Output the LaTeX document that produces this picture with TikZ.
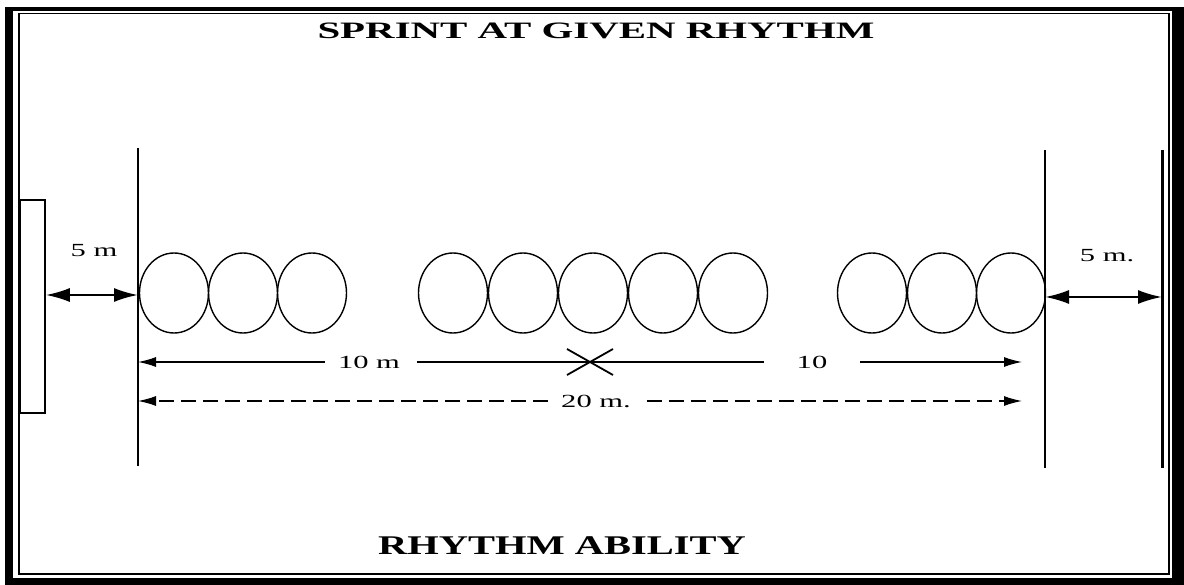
\documentclass[tikz,border=0pt]{standalone}
\usepackage{fontspec}
\setmainfont{Liberation Serif}
\usetikzlibrary{arrows.meta,shapes.geometric}
\begin{document}
\begin{tikzpicture}[x=1pt,y=-1pt,
  loop/.style={draw,ellipse,line width=1.4pt,minimum width=69pt,minimum height=80pt,inner sep=0pt},
  heading/.style={inner sep=0pt},
  dimlabel/.style={inner sep=0pt,font=\fontsize{18.5}{21}\selectfont},
  bar/.style={line width=2.6pt},
  thinline/.style={line width=1.4pt},
  dashline/.style={line width=1.4pt,dash pattern=on 15pt off 7pt},
  smalltip/.style={-{Latex[length=18pt,width=10pt]}},
  bigtips/.style={line width=2.2pt,{Latex[length=24pt,width=14pt]}-{Latex[length=24pt,width=14pt]}}
]
\useasboundingbox (0,0) rectangle (1184,585);
% frame
\fill (5,7) rectangle (13,583);
\fill (5,7) rectangle (1184,11);
\fill (1172,7) rectangle (1184,585);
\fill (5,578) rectangle (1184,585);
\draw[line width=1.5pt] (19,13.5) rectangle (1169,574);
% titles
\node[heading] (title) at (596,31) {\fontsize{23.5}{28}\selectfont\bfseries\scalebox{1.74}[1]{SPRINT AT GIVEN RHYTHM}};
\node[heading] (sub) at (562,546) {\fontsize{27}{32}\selectfont\bfseries\scalebox{1.5}[1]{RHYTHM ABILITY}};
% lines
\coordinate (s1) at (138,148);
\coordinate (s2) at (138,466);
\coordinate (f1) at (1045,150);
\coordinate (f2) at (1045,468);
\coordinate (e1) at (1162,150);
\coordinate (e2) at (1162,468);
\draw[bar] (s1) -- (s2);
\draw[bar] (f1) -- (f2);
\draw[line width=3pt] (e1) -- (e2);
% box
\node[draw,line width=1.5pt,minimum width=25pt,minimum height=213pt,inner sep=0pt] (box) at (32.5,306.5) {};
% loops
\foreach \i/\x in {1/174,2/243,3/312,4/453,5/523,6/593,7/663,8/733,9/872,10/942,11/1011}
  \node[loop] (c\i) at (\x,293) {};
% labels
\node[dimlabel] (d5a) at (94,251) {\scalebox{1.65}[1]{5 m}};
\node[dimlabel] (d5b) at (1107,256) {\scalebox{1.65}[1]{5 m.}};
\node[dimlabel] (d10a) at (369,362) {\scalebox{1.65}[1]{10 m}};
\node[dimlabel] (d10b) at (812,362) {\scalebox{1.65}[1]{10}};
\node[dimlabel] (d20) at (596,401) {\scalebox{1.65}[1]{20 m.}};
% 5 m arrows
\coordinate (a5l) at (138,295);
\coordinate (a5r) at (1162,297);
\draw[bigtips] (box.east |- a5l) -- (a5l);
\draw[bigtips] (f1 |- a5r) -- (a5r);
% 10 m arrows
\coordinate (xm) at (590,362);
\draw[thinline,smalltip] ([xshift=-13pt]d10a.west) -- (d10a.west -| s1);
\draw[thinline] ([xshift=17pt]d10a.east) -- ([xshift=-33pt]d10b.west);
\draw[thinline,smalltip,shorten >=23pt] ([xshift=33pt]d10b.east) -- (d10b.east -| f1);
\draw[line width=1.8pt] (xm) +(-23,-13) -- +(23,13) (xm) +(-23,13) -- +(23,-13);
% 20 m arrows
\draw[dashline,smalltip] ([xshift=-13pt]d20.west) -- (d20.west -| s1);
\draw[dashline,smalltip,shorten >=23pt] ([xshift=16pt]d20.east) -- (d20.east -| f1);
\end{tikzpicture}
\end{document}
